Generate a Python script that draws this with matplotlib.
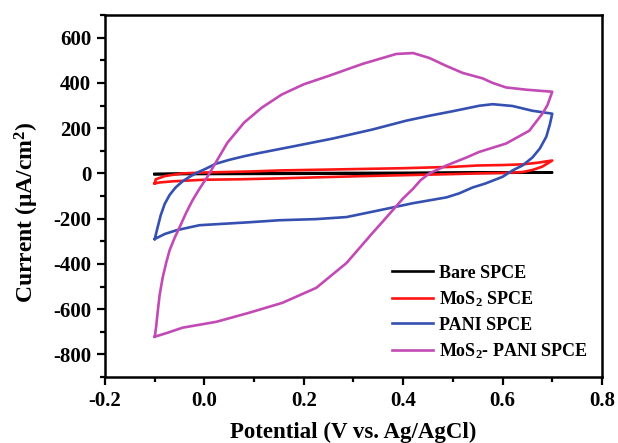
import numpy as np
import matplotlib
matplotlib.use("Agg")
import matplotlib.pyplot as plt
from matplotlib.ticker import MultipleLocator

plt.rcParams["font.family"] = "Liberation Serif"
plt.rcParams["font.weight"] = "bold"
plt.rcParams["axes.unicode_minus"] = False
plt.rcParams["mathtext.fontset"] = "custom"
plt.rcParams["mathtext.rm"] = "Liberation Serif:bold"
plt.rcParams["mathtext.it"] = "Liberation Serif:italic:bold"
plt.rcParams["mathtext.bf"] = "Liberation Serif:bold"

# potential (V) and current density (uA/cm2), forward scan then reverse scan
bare_fwd_v = [-0.1, 0.0, 0.3, 0.7]
bare_fwd_i = [-3, 0, 2, 4]
bare_rev_v = [0.7, 0.3, -0.1]
bare_rev_i = [4, -1, -3]

mos2_fwd_v = [-0.1, -0.098, -0.08, -0.045, 0.0, 0.1, 0.15, 0.2, 0.3, 0.4, 0.5, 0.55, 0.6, 0.64, 0.67, 0.7]
mos2_fwd_i = [-44, -26, -12, 0, 4, 9, 13, 15, 19, 23, 29, 35, 37, 40, 47, 57]
mos2_rev_v = [0.7, 0.68, 0.66, 0.64, 0.6, 0.55, 0.5, 0.4, 0.3, 0.2, 0.15, 0.07, 0.0, -0.064, -0.09, -0.1]
mos2_rev_i = [57, 30, 15, 6, 2, 0, -3, -8, -13, -19, -22, -26, -28, -35, -40, -44]

pani_fwd_v = [-0.1, -0.095, -0.088, -0.08, -0.07, -0.058, -0.044, -0.03, -0.015, 0.004, 0.022, 0.05, 0.08, 0.11,
              0.18, 0.258, 0.338, 0.406, 0.453, 0.5, 0.553, 0.58, 0.62, 0.66, 0.7]
pani_fwd_i = [-290, -245, -185, -135, -95, -62, -35, -15, 3, 22, 42, 60, 76, 90,
              120, 154, 194, 233, 255, 275, 299, 306, 298, 277, 264]
pani_rev_v = [0.7, 0.695, 0.688, 0.675, 0.66, 0.64, 0.62, 0.6, 0.565, 0.54, 0.513, 0.487, 0.419,
              0.352, 0.286, 0.225, 0.151, 0.09, -0.01, -0.056, -0.08, -0.1]
pani_rev_i = [264, 215, 162, 110, 70, 35, 13, -15, -45, -62, -88, -106, -132,
              -163, -193, -202, -207, -216, -229, -251, -268, -290]

comp_fwd_v = [-0.1, -0.097, -0.094, -0.09, -0.084, -0.077, -0.07, -0.06, -0.05, -0.037, -0.024, -0.01,
              0.006, 0.022, 0.046, 0.08, 0.115, 0.155, 0.2, 0.25, 0.318, 0.386, 0.42, 0.453, 0.487,
              0.52, 0.56, 0.58, 0.607, 0.648, 0.7]
comp_fwd_i = [-722, -675, -610, -535, -460, -395, -339, -285, -238, -175, -119, -68,
              -15, 45, 135, 225, 290, 348, 394, 431, 484, 528, 532, 510, 475,
              444, 420, 400, 380, 370, 361]
comp_rev_v = [0.7, 0.69, 0.68, 0.654, 0.607, 0.553, 0.527, 0.487, 0.453, 0.435, 0.419, 0.4, 0.38,
              0.36, 0.338, 0.286, 0.225, 0.157, 0.09, 0.024, -0.044, -0.075, -0.1]
comp_rev_i = [361, 300, 264, 189, 132, 95, 70, 35, 0, -30, -70, -110, -160,
              -210, -264, -396, -506, -572, -616, -656, -682, -705, -722]

labels = ["Bare SPCE", "MoS$_2$ SPCE", "PANI SPCE", "MoS$_2$- PANI SPCE"]
colors = ["black", "#ff1414", "#3550b0", "#c24ab4"]

fig = plt.figure(figsize=(6.18, 4.43), dpi=100)
ax = fig.add_axes([0.170, 0.149, 0.804, 0.817])

curves = [
    (bare_fwd_v + bare_rev_v, bare_fwd_i + bare_rev_i),
    (mos2_fwd_v + mos2_rev_v, mos2_fwd_i + mos2_rev_i),
    (pani_fwd_v + pani_rev_v, pani_fwd_i + pani_rev_i),
    (comp_fwd_v + comp_rev_v, comp_fwd_i + comp_rev_i),
]
for (v, i), lab, c in zip(curves, labels, colors):
    ax.plot(v, i, color=c, lw=1.9, label=lab)

ax.set_xlim(-0.2, 0.8)
ax.set_ylim(-900, 700)
ax.xaxis.set_major_locator(MultipleLocator(0.2))
ax.xaxis.set_minor_locator(MultipleLocator(0.1))
ax.yaxis.set_major_locator(MultipleLocator(200))
ax.yaxis.set_minor_locator(MultipleLocator(100))
ax.tick_params(which="both", direction="out", top=False, right=False, width=1.6, labelsize=15)
ax.tick_params(which="major", length=6, pad=4)
ax.tick_params(which="minor", length=3.5)
for s in ax.spines.values():
    s.set_linewidth(1.8)

ax.set_xlabel("Potential (V vs. Ag/AgCl)", fontsize=16.5, fontweight="bold", labelpad=8)
ax.set_ylabel("Current (μA/cm$^2$)", fontsize=17, fontweight="bold")
ax.yaxis.set_label_coords(-0.128, 0.455)

ax.legend(loc="upper left", bbox_to_anchor=(0.577, 0.31), frameon=False, fontsize=13,
          handlelength=2.3, handletextpad=0.3, labelspacing=0.42, borderpad=0, borderaxespad=0)

fig.savefig("out.png", dpi=100)
